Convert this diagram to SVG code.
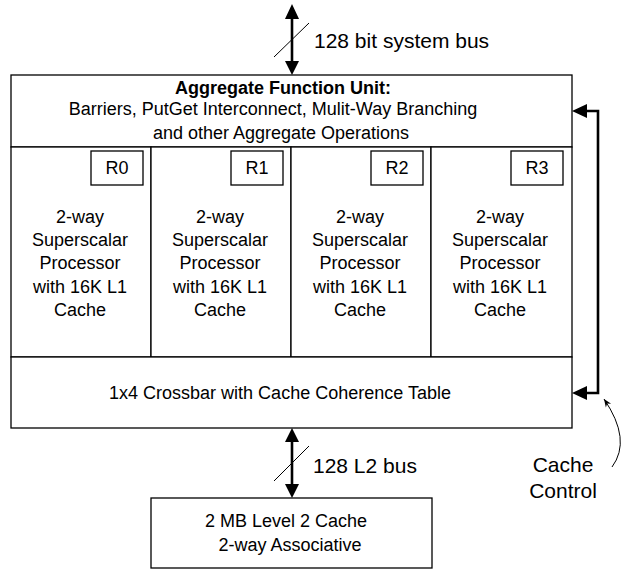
<svg xmlns="http://www.w3.org/2000/svg" width="622" height="569" viewBox="0 0 622 569">
<style>
text{font-family:"Liberation Sans",Arial,sans-serif;fill:#000}
.box{fill:#fff;stroke:#000;stroke-width:1.3}
.t{font-size:18px;text-anchor:middle}
.lbl{font-size:21px}
.bus{stroke:#000;stroke-width:2.6;fill:none}
.thin{stroke:#000;stroke-width:1;fill:none}
</style>
<defs>
<marker id="ah2" viewBox="0 0 10 10" refX="10" refY="5" markerWidth="8" markerHeight="8" orient="auto" markerUnits="strokeWidth">
<path d="M0,1 L10,5 L0,9 L3,5 z" fill="#000"/>
</marker>
</defs>
<g id="afu">
<rect class="box" x="11" y="75" width="561" height="72"/>
<text x="283" y="94" style="font-size:18px;font-weight:bold;text-anchor:middle">Aggregate Function Unit:</text>
<text class="t" x="273" y="115">Barriers, PutGet Interconnect, Mulit-Way Branching</text>
<text class="t" x="281" y="139">and other Aggregate Operations</text>
</g>
<g id="p0">
<rect class="box" x="11" y="147" width="140" height="210"/>
<rect class="box" x="91" y="151" width="52" height="34"/>
<text class="t" x="117" y="174">R0</text>
<text class="t" x="80" y="223">2-way</text><text class="t" x="80" y="246">Superscalar</text><text class="t" x="80" y="269">Processor</text><text class="t" x="80" y="293">with 16K L1</text><text class="t" x="80" y="316">Cache</text>
</g>
<g id="p1">
<rect class="box" x="151" y="147" width="140" height="210"/>
<rect class="box" x="231" y="151" width="52" height="34"/>
<text class="t" x="257" y="174">R1</text>
<text class="t" x="220" y="223">2-way</text><text class="t" x="220" y="246">Superscalar</text><text class="t" x="220" y="269">Processor</text><text class="t" x="220" y="293">with 16K L1</text><text class="t" x="220" y="316">Cache</text>
</g>
<g id="p2">
<rect class="box" x="291" y="147" width="140" height="210"/>
<rect class="box" x="371" y="151" width="52" height="34"/>
<text class="t" x="397" y="174">R2</text>
<text class="t" x="360" y="223">2-way</text><text class="t" x="360" y="246">Superscalar</text><text class="t" x="360" y="269">Processor</text><text class="t" x="360" y="293">with 16K L1</text><text class="t" x="360" y="316">Cache</text>
</g>
<g id="p3">
<rect class="box" x="431" y="147" width="141" height="210"/>
<rect class="box" x="511" y="151" width="52" height="34"/>
<text class="t" x="537" y="174">R3</text>
<text class="t" x="500" y="223">2-way</text><text class="t" x="500" y="246">Superscalar</text><text class="t" x="500" y="269">Processor</text><text class="t" x="500" y="293">with 16K L1</text><text class="t" x="500" y="316">Cache</text>
</g>
<g id="crossbar">
<rect class="box" x="11" y="357" width="561" height="71"/>
<text class="t" x="280" y="399">1x4 Crossbar with Cache Coherence Table</text>
</g>
<g id="l2">
<rect class="box" x="151" y="498" width="281" height="70"/>
<text class="t" x="286" y="527">2 MB Level 2 Cache</text>
<text class="t" x="290" y="551">2-way Associative</text>
</g>
<g id="connectors">
<line class="bus" x1="292" y1="18" x2="292" y2="62"/>
<path d="M292,4 L285,19 L299,19 z"/>
<path d="M292,75 L285,61 L299,61 z"/>
<line class="thin" x1="274" y1="57" x2="309" y2="23"/>
<line class="bus" x1="292" y1="441" x2="292" y2="485"/>
<path d="M292,428 L285,442 L299,442 z"/>
<path d="M292,498 L285,484 L299,484 z"/>
<line class="thin" x1="274" y1="481" x2="309" y2="446"/>
<polyline class="bus" points="586,111 598,111 598,393 586,393"/>
<path d="M572,111 L587,104 L587,118 z"/>
<path d="M572,393 L587,386 L587,400 z"/>
<path class="thin" d="M612,467 Q632,440 604,399" marker-end="url(#ah2)"/>
</g>
<text class="lbl" x="314" y="48">128 bit system bus</text>
<text class="lbl" x="313" y="473">128 L2 bus</text>
<text class="lbl" x="563" y="472" text-anchor="middle">Cache</text>
<text class="lbl" x="563" y="498" text-anchor="middle">Control</text>
</svg>
